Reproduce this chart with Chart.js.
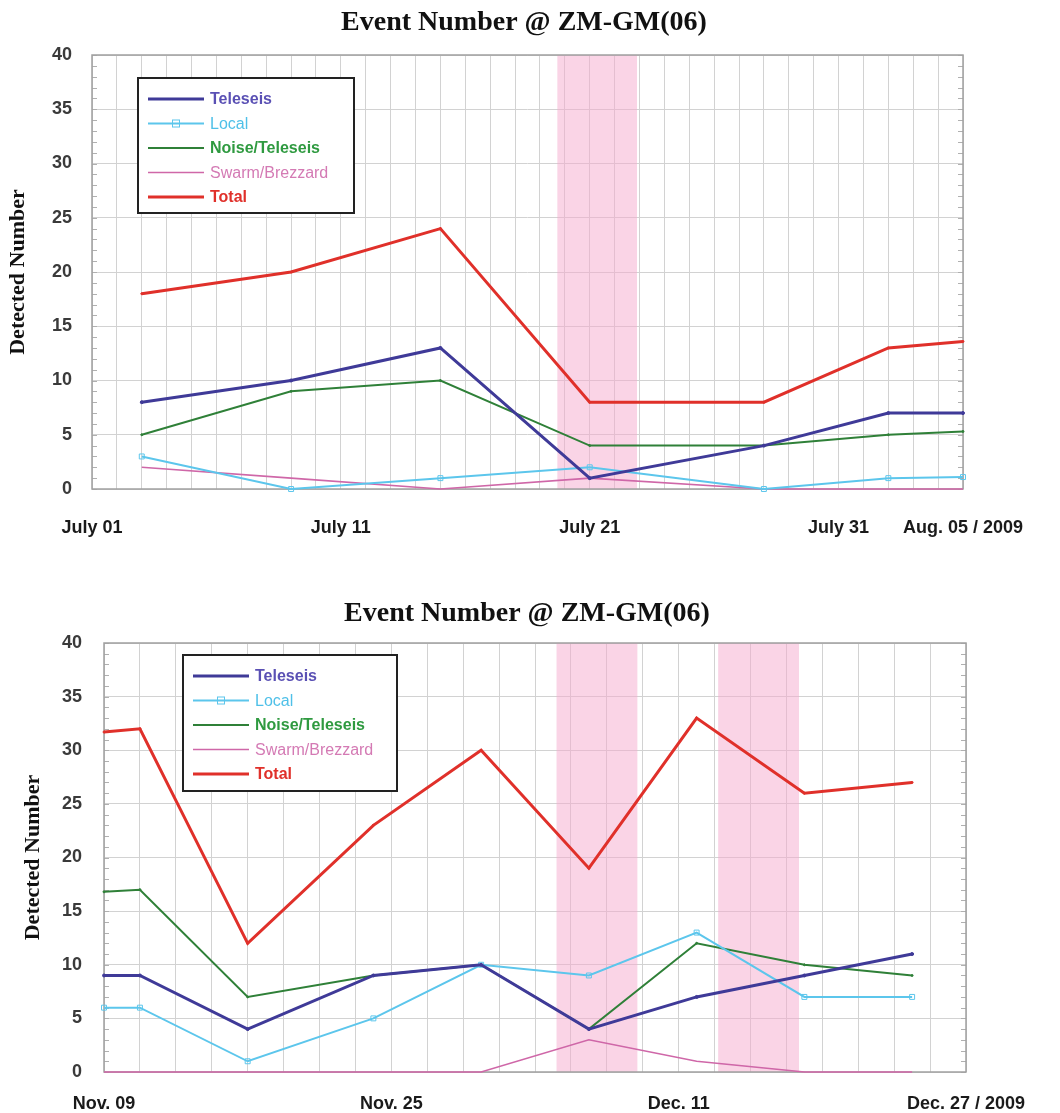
<!DOCTYPE html>
<html>
<head>
<meta charset="utf-8">
<script src="https://cdn.jsdelivr.net/npm/chart.js@4.4.1/dist/chart.umd.min.js"></script>
<style>
  html, body { margin: 0; padding: 0; background: #ffffff; }
  body { width: 1060px; height: 1113px; position: relative; overflow: hidden; }
  .box { position: absolute; left: 0; width: 1060px; }
</style>
</head>
<body>
<div class="box" style="top:0;height:560px;"><canvas id="c1" width="1060" height="560"></canvas></div>
<div class="box" style="top:580px;height:533px;"><canvas id="c2" width="1060" height="533"></canvas></div>
<script>
// ---------------- DATA ----------------
const chartTitle = 'Event Number @ ZM-GM(06)';
const yAxisTitle = 'Detected Number';
const seriesNames = ['Teleseis', 'Local', 'Noise/Teleseis', 'Swarm/Brezzard', 'Total'];

// Top chart (July 2009)
const topStart = '2009-07-01';
const topEnd = '2009-08-05';
const topDates = ['2009-07-03', '2009-07-09', '2009-07-15', '2009-07-21', '2009-07-28', '2009-08-02', '2009-08-05'];
const topTeleseis = [8, 10, 13, 1, 4, 7, 7];
const topLocal = [3, 0, 1, 2, 0, 1, 1.1];
const topNoise = [5, 9, 10, 4, 4, 5, 5.3];
const topSwarm = [2, 1, 0, 1, 0, 0, 0];
const topTotal = [18, 20, 24, 8, 8, 13, 13.6];
const topTickDates = ['2009-07-01', '2009-07-11', '2009-07-21', '2009-07-31', '2009-08-05'];
const topTickLabels = ['July 01', 'July 11', 'July 21', 'July 31', 'Aug. 05 / 2009'];
const topBands = [[18.7, 21.9]]; // shaded periods, days after start

// Bottom chart (Nov-Dec 2009)
const botStart = '2009-11-09';
const botEnd = '2009-12-27';
const botDates = ['2009-11-09', '2009-11-11', '2009-11-17', '2009-11-24', '2009-11-30', '2009-12-06', '2009-12-12', '2009-12-18', '2009-12-24'];
const botTeleseis = [9, 9, 4, 9, 10, 4, 7, 9, 11];
const botLocal = [6, 6, 1, 5, 10, 9, 13, 7, 7];
const botNoise = [16.8, 17, 7, 9, 10, 4, 12, 10, 9];
const botSwarm = [0, 0, 0, 0, 0, 3, 1, 0, 0];
const botTotal = [31.7, 32, 12, 23, 30, 19, 33, 26, 27];
const botTickDates = ['2009-11-09', '2009-11-25', '2009-12-11', '2009-12-27'];
const botTickLabels = ['Nov. 09', 'Nov. 25', 'Dec. 11', 'Dec. 27 / 2009'];
const botBands = [[25.2, 29.7], [34.2, 38.7]];

// ---------------- HELPERS ----------------
function dayOff(start, d) { return Math.round((Date.parse(d) - Date.parse(start)) / 86400000); }

const styles = [
  { color: '#3f3a98', text: '#5a50b4', width: 3,   point: 'circle', r: 1.5, bold: true },
  { color: '#5cc6ec', text: '#4fc0e8', width: 2,   point: 'rect',   r: 3.5, bold: false },
  { color: '#2f8038', text: '#2f9a40', width: 2,   point: 'circle', r: 1,   bold: true },
  { color: '#cf67a8', text: '#d47ab4', width: 1.6, point: 'circle', r: 0,   bold: false },
  { color: '#e0302a', text: '#e0302a', width: 3,   point: 'circle', r: 1,   bold: true }
];

function buildDatasets(start, dates, arrays) {
  return arrays.map((arr, i) => ({
    label: seriesNames[i],
    data: arr.map((v, j) => ({ x: dayOff(start, dates[j]), y: v })),
    borderColor: styles[i].color,
    backgroundColor: i === 1 ? 'rgba(255,255,255,0)' : styles[i].color,
    borderWidth: styles[i].width,
    pointStyle: styles[i].point,
    pointRadius: styles[i].r,
    pointBorderWidth: 1,
    pointBorderColor: styles[i].color,
    tension: 0,
    fill: false,
    clip: 4
  }));
}

const decorPlugin = {
  id: 'decor',
  beforeDatasetsDraw(chart, args, opts) {
    const { ctx, chartArea: a, scales: { x, y } } = chart;
    ctx.save();
    ctx.fillStyle = 'rgba(246,170,205,0.5)';
    opts.bands.forEach(b => {
      const x0 = x.getPixelForValue(b[0]), x1 = x.getPixelForValue(b[1]);
      ctx.fillRect(x0, a.top, x1 - x0, a.bottom - a.top);
    });
    // minor ticks on left and right
    ctx.strokeStyle = '#b0b0b0';
    ctx.lineWidth = 1;
    for (let v = 0; v <= 40; v++) {
      const py = Math.round(y.getPixelForValue(v)) + 0.5;
      ctx.beginPath();
      ctx.moveTo(a.left, py); ctx.lineTo(a.left + 5, py);
      ctx.moveTo(a.right - 5, py); ctx.lineTo(a.right, py);
      ctx.stroke();
    }
    // plot border
    ctx.strokeStyle = '#a0a0a0';
    ctx.lineWidth = 1.5;
    ctx.strokeRect(a.left, a.top, a.right - a.left, a.bottom - a.top);
    ctx.restore();
  },
  afterDatasetsDraw(chart, args, opts) {
    const { ctx } = chart;
    ctx.save();
    // legend
    const L = opts.legend;
    ctx.fillStyle = '#ffffff';
    ctx.fillRect(L.x, L.y, L.w, L.h);
    ctx.strokeStyle = '#222222';
    ctx.lineWidth = 2;
    ctx.strokeRect(L.x, L.y, L.w, L.h);
    chart.data.datasets.forEach((ds, i) => {
      const cy = L.y + L.first + i * L.step;
      const st = styles[i];
      ctx.strokeStyle = st.color;
      ctx.lineWidth = st.width;
      ctx.beginPath();
      ctx.moveTo(L.x + 10, cy); ctx.lineTo(L.x + 66, cy);
      ctx.stroke();
      if (i === 1) {
        ctx.lineWidth = 1;
        ctx.strokeRect(L.x + 34.5, cy - 3.5, 7, 7);
      }
      ctx.fillStyle = st.text;
      ctx.font = (st.bold ? 'bold ' : '') + '16px "Liberation Sans", Arial, sans-serif';
      ctx.textBaseline = 'middle';
      ctx.textAlign = 'left';
      ctx.fillText(ds.label, L.x + 72, cy + 1);
    });

    // title
    ctx.fillStyle = '#111111';
    ctx.font = 'bold 28px "Liberation Serif", "Times New Roman", serif';
    ctx.textAlign = 'center';
    ctx.textBaseline = 'middle';
    ctx.fillText(opts.title, opts.titleX, opts.titleY);
    ctx.restore();
  }
};

function makeChart(id, cfg) {
  const labelAt = {};
  cfg.tickDays.forEach((d, i) => { labelAt[d] = cfg.tickLabels[i]; });
  return new Chart(document.getElementById(id), {
    type: 'line',
    data: { datasets: cfg.datasets },
    plugins: [decorPlugin],
    options: {
      responsive: false,
      animation: false,
      events: [],
      layout: { padding: cfg.padding },
      plugins: {
        legend: { display: false },
        tooltip: { enabled: false },
        title: { display: false },
        decor: { bands: cfg.bands, legend: cfg.legend, title: chartTitle, titleX: cfg.titleX, titleY: cfg.titleY }
      },
      scales: {
        x: {
          type: 'linear',
          min: 0, max: cfg.maxDay,
          afterFit: s => { s.height = cfg.xHeight; },
          afterBuildTicks: s => {
            const t = [];
            for (let v = 0; v <= cfg.maxDay; v += cfg.gridStep) t.push({ value: v });
            s.ticks = t;
          },
          grid: { color: '#d2d2d2', lineWidth: 1, drawTicks: false },
          border: { display: false },
          ticks: {
            autoSkip: false, maxRotation: 0, minRotation: 0,
            padding: cfg.xPad,
            color: '#1a1a1a',
            font: { family: '"Liberation Sans", Arial, sans-serif', size: 18, weight: 'bold' },
            callback: v => (labelAt[v] !== undefined ? labelAt[v] : '')
          }
        },
        y: {
          min: 0, max: 40,
          afterFit: s => { s.width = cfg.yWidth; },
          grid: { color: '#d2d2d2', lineWidth: 1, drawTicks: false },
          border: { display: false },
          ticks: {
            stepSize: 5,
            padding: cfg.yPad,
            color: '#3a3a3a',
            font: { family: '"Liberation Sans", Arial, sans-serif', size: 18, weight: 'bold' }
          },
          title: {
            display: true,
            text: yAxisTitle,
            color: '#111111',
            padding: { top: cfg.yTitlePad, bottom: 0 },
            font: { family: '"Liberation Serif", "Times New Roman", serif', size: 22, weight: 'bold' }
          }
        }
      }
    }
  });
}

makeChart('c1', {
  datasets: buildDatasets(topStart, topDates, [topTeleseis, topLocal, topNoise, topSwarm, topTotal]),
  maxDay: dayOff(topStart, topEnd),
  gridStep: 1,
  tickDays: topTickDates.map(d => dayOff(topStart, d)),
  tickLabels: topTickLabels,
  bands: topBands,
  padding: { top: 55, right: 97, left: 0, bottom: 0 },
  xHeight: 71, yWidth: 92, xPad: 28, yPad: 20, yTitlePad: 5,
  legend: { x: 138, y: 78, w: 216, h: 135, first: 21, step: 24.5 },
  titleX: 524, titleY: 23
});

makeChart('c2', {
  datasets: buildDatasets(botStart, botDates, [botTeleseis, botLocal, botNoise, botSwarm, botTotal]),
  maxDay: dayOff(botStart, botEnd),
  gridStep: 2,
  tickDays: botTickDates.map(d => dayOff(botStart, d)),
  tickLabels: botTickLabels,
  bands: botBands,
  padding: { top: 63, right: 94, left: 0, bottom: 0 },
  xHeight: 41, yWidth: 104, xPad: 21, yPad: 22, yTitlePad: 20,
  legend: { x: 183, y: 75, w: 214, h: 136, first: 21, step: 24.5 },
  titleX: 527, titleY: 34
});
</script>
</body>
</html>
